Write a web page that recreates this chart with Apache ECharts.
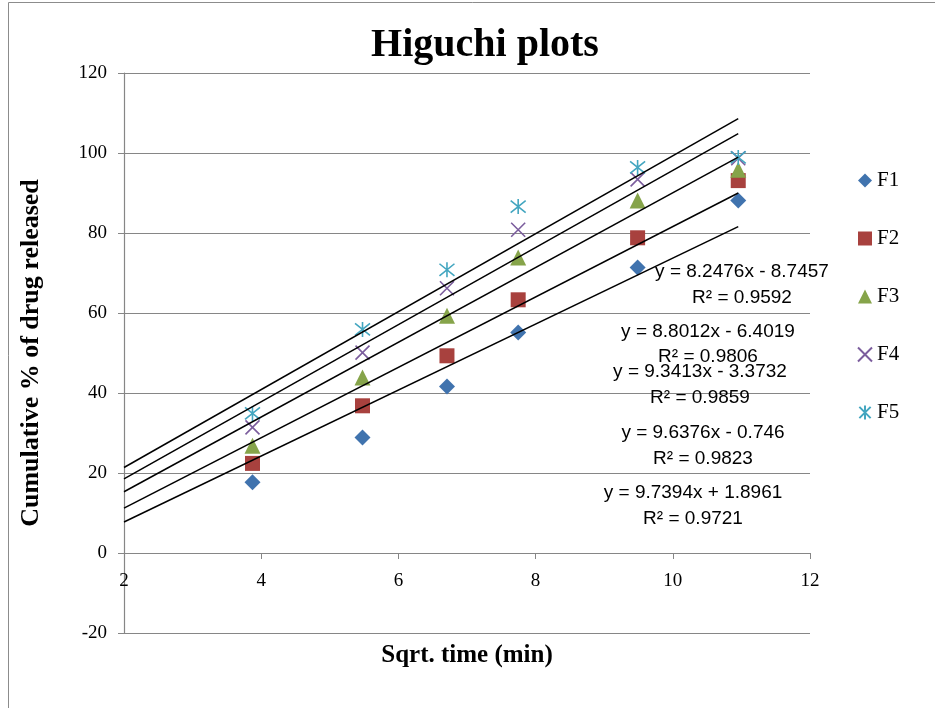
<!DOCTYPE html>
<html><head><meta charset="utf-8">
<script src="https://cdn.jsdelivr.net/npm/echarts@6/dist/echarts.min.js"></script>
<style>html,body{margin:0;padding:0;background:#fff}#c{width:935px;height:708px}</style>
</head><body><div id="c"></div>
<script>
const seriesNames = ['F1','F2','F3','F4','F5'];
const sqrtTime = [3.873, 5.477, 6.708, 7.746, 9.487, 10.954];
const F1 = [17.7, 28.9, 41.6, 55.1, 71.4, 88.1];
const F2 = [22.4, 36.8, 49.3, 63.3, 78.8, 93.1];
const F3 = [26.8, 43.9, 59.3, 73.9, 88.1, 95.8];
const F4 = [31.4, 50.1, 66.2, 80.8, 93.4, 98.7];
const F5 = [34.9, 55.9, 70.8, 86.6, 96.4, 98.9];
const trendSlopes = [8.2476, 8.8012, 9.3413, 9.6376, 9.7394];
const trendIntercepts = [-8.7457, -6.4019, -3.3732, -0.746, 1.8961];
const trendRange = [2, 10.954];
const eqLabels = ['y = 8.2476x - 8.7457','y = 8.8012x - 6.4019','y = 9.3413x - 3.3732','y = 9.6376x - 0.746','y = 9.7394x + 1.8961'];
const r2Labels = ['R² = 0.9592','R² = 0.9806','R² = 0.9859','R² = 0.9823','R² = 0.9721'];
const xTicks = {min: 2, max: 12, interval: 2};
const yTicks = {min: -20, max: 120, interval: 20};

const values = [F1, F2, F3, F4, F5];
const colors = ['#4073AE','#A8413E','#86A44A','#7B5D9D','#43A6C0'];
const symbols = ['diamond','rect','triangle','path://M0,0L10,10M10,0L0,10','path://M0,0L10,10M10,0L0,10M5,-1.2L5,11.2'];
const sizes = [16, 15, 16, 14, 15];
const stroked = [false,false,false,true,true];

const serif = 'Liberation Serif';
const series = [];
seriesNames.forEach((n,i)=>{
  series.push({
    name: n, type: 'scatter', symbol: symbols[i], symbolSize: sizes[i],
    data: sqrtTime.map((x,j)=>[x, values[i][j]]),
    itemStyle: stroked[i] ? {color:'rgba(0,0,0,0)', borderColor: colors[i], borderWidth: 1.6, opacity:1}
                          : {color: colors[i], opacity:1},
    z: 3
  });
});
trendSlopes.forEach((m,i)=>{
  series.push({
    type:'line', silent:true, symbol:'none', z:4,
    lineStyle:{color:'#000', width:1.5},
    data: trendRange.map(x=>[x, m*x + trendIntercepts[i]])
  });
});

const eqPos = [[742,272,298],[708,332,357],[700,372,398],[703,433,459],[693,493,519]];
const graphics = [{type:'rect', shape:{x:8.5, y:2.5, width:1000, height:800}, style:{fill:'none', stroke:'#8c8c8c', lineWidth:1}, z:-1}];
eqLabels.forEach((t,i)=>{
  graphics.push({type:'text', x:eqPos[i][0], y:eqPos[i][1], style:{text:t, font:'19px "Liberation Sans"', fill:'#000', textAlign:'center', textVerticalAlign:'middle'}, z:10});
  graphics.push({type:'text', x:eqPos[i][0], y:eqPos[i][2], style:{text:r2Labels[i], font:'19px "Liberation Sans"', fill:'#000', textAlign:'center', textVerticalAlign:'middle'}, z:10});
});

const chart = echarts.init(document.getElementById('c'), null, {renderer:'canvas'});
chart.setOption({
  animation:false,
  title:{text:'Higuchi plots', left:480, top:21, textAlign:'center',
    textStyle:{fontFamily:serif, fontWeight:'bold', fontSize:40, color:'#000'}},
  legend:{data:seriesNames, orient:'vertical', left:852, top:165, itemWidth:14, itemHeight:14, itemGap:37,
    textStyle:{fontFamily:serif, fontSize:21, color:'#000', lineHeight:20}},
  grid:{left:124, right:125, top:73, bottom:75, outerBoundsMode:'none', containLabel:false},
  xAxis:{type:'value', min:xTicks.min, max:xTicks.max, interval:xTicks.interval,
    offset:-80,
    name:'Sqrt. time (min)', nameLocation:'middle', nameGap:90,
    nameTextStyle:{fontFamily:serif, fontWeight:'bold', fontSize:25, color:'#000'},
    axisLine:{onZero:false, lineStyle:{color:'#868686', width:1.2}},
    axisTick:{show:true, length:6, lineStyle:{color:'#868686'}},
    axisLabel:{fontFamily:serif, fontSize:19, color:'#000', margin:19},
    splitLine:{show:false}},
  yAxis:{type:'value', min:yTicks.min, max:yTicks.max, interval:yTicks.interval,
    name:'Cumulative % of drug released', nameLocation:'middle', nameGap:80,
    nameTextStyle:{fontFamily:serif, fontWeight:'bold', fontSize:26, color:'#000'},
    axisLine:{show:true, lineStyle:{color:'#868686', width:1.2}},
    axisTick:{show:true, length:6, lineStyle:{color:'#868686'}},
    axisLabel:{fontFamily:serif, fontSize:19, color:'#000', margin:17},
    splitLine:{show:true, lineStyle:{color:'#868686', width:1.2}}},
  series: series,
  graphic: graphics
});
</script></body></html>
